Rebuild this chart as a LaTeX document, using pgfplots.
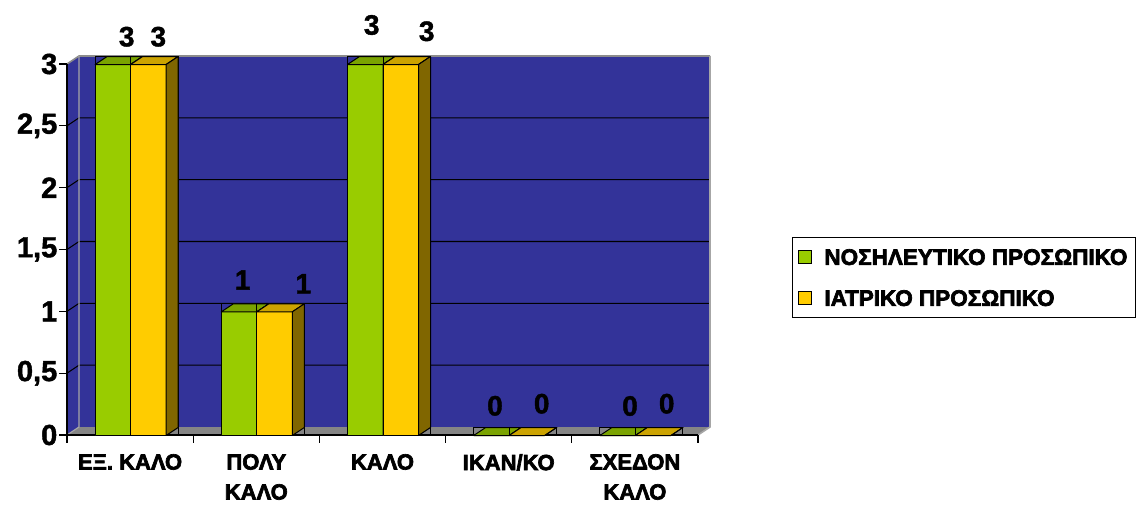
\documentclass[border=0pt]{standalone}
\usepackage{fontspec}
\setmainfont{Liberation Sans}[BoldFeatures={FakeBold=1.5}]
\newfontfamily\heavy{Liberation Sans}[UprightFeatures={FakeBold=3}, BoldFeatures={FakeBold=3}]
\usepackage{pgfplots}
\usepackage{pgfplotstable}
\pgfplotsset{compat=1.18}
\definecolor{navy}{HTML}{333399}
\definecolor{greenc}{HTML}{99CC00}
\definecolor{greentop}{HTML}{7AA300}
\definecolor{greenside}{HTML}{4D6600}
\definecolor{yellowc}{HTML}{FFCC00}
\definecolor{yellowtop}{HTML}{CCA300}
\definecolor{yellowside}{HTML}{806600}
\definecolor{floorc}{HTML}{858585}
\definecolor{edgegray}{HTML}{8C8C8C}
\definecolor{edgelight}{HTML}{A6A6A6}

\pgfdeclareplotmark{nothing}{}
\def\yunit{123.6667}
\newdimen\bhdim
\newdimen\bhsdim
% prism of one bar: front face, top face, side face; origin = top centre of front face
\newcommand\prismpic[3]{%
  \bhdim=\barval pt\relax
  \bhdim=\yunit\bhdim
  \bhsdim=8pt\relax
  \advance\bhsdim by -\bhdim
  \edef\bh{\the\bhdim}\edef\bhs{\the\bhsdim}%
  \begin{tikzpicture}[line width=1pt, line join=round]
    \useasboundingbox (-17.75pt,-\bh) rectangle (29.75pt,8pt);
    \filldraw[draw=black, fill=#1] (-17.75pt,-\bh) rectangle (17.75pt,0pt);
    \filldraw[draw=black, fill=#2] (-17.75pt,0pt) -- (17.75pt,0pt) -- (29.75pt,8pt) -- (-5.75pt,8pt) -- cycle;
    \filldraw[draw=black, fill=#3] (17.75pt,0pt) -- (29.75pt,8pt) -- (29.75pt,\bhs) -- (17.75pt,-\bh) -- cycle;
  \end{tikzpicture}}

\pgfplotstableread{
x v lx ly
0 3 -3.4 27.3
1 1 -13.6 31.3
2 3 -10.8 39
3 0 -13.7 29.2
4 0 -4.9 29
}\nurse
\pgfplotstableread{
x v lx ly
0 3 28.2 27.3
1 1 47 27.6
2 3 44.2 32.7
3 0 33 31.3
4 0 31.8 31.3
}\doctors

\begin{document}
\begin{tikzpicture}
\useasboundingbox (-67pt,-69pt) rectangle (1074pt,435pt);
\begin{axis}[at={(0pt,0pt)}, anchor=south west, scale only axis,
  width=631pt, height=371pt,
  xmin=-0.5, xmax=4.5, ymin=0, ymax=3,
  clip=false, axis on top,
  axis x line*=bottom, axis y line*=left,
  axis line style={black, line width=1.3pt, -},
  tick style={black, line width=1.3pt},
  tick align=outside, major tick length=7.5pt,
  ytick={0,0.5,1,1.5,2,2.5,3},
  xtick={-0.5,0.5,1.5,2.5,3.5,4.5}, xticklabels={},
  extra x ticks={0,1,2,3,4},
  extra x tick labels={ΕΞ. ΚΑΛΟ, {ΠΟΛΥ\\ΚΑΛΟ}, ΚΑΛΟ, ΙΚΑΝ/ΚΟ, {ΣΧΕΔΟΝ\\ΚΑΛΟ}},
  extra x tick style={major tick length=0pt,
    tick label style={font={\heavy\fontsize{22}{30}\selectfont\bfseries}, align=center, inner sep=0pt, anchor=north, yshift=-19pt}},
  /pgf/number format/use comma, /pgf/number format/assume math mode=true,
  yticklabel style={font={\fontsize{29}{30}\selectfont\bfseries}, inner sep=2pt},
  legend style={at={(axis description cs:1.1490,0.5337)}, anchor=north west, draw=black, line width=1pt, fill=white,
    inner xsep=5pt, inner ysep=5.4pt, row sep=12.8pt,
    nodes={font={\heavy\fontsize{22.5}{25}\selectfont\bfseries}, inner sep=3pt, text height=19pt, text depth=3.2pt}},
  legend cell align=left,
]
\fill[navy] ([shift={(12pt,8pt)}]axis cs:-0.5,0) rectangle ([shift={(12pt,8pt)}]axis cs:4.5,3);
\fill[navy] (axis cs:-0.5,0) -- (axis cs:-0.5,3) -- ([shift={(12pt,8pt)}]axis cs:-0.5,3) -- ([shift={(12pt,8pt)}]axis cs:-0.5,0) -- cycle;
\fill[floorc] (axis cs:-0.5,0) -- (axis cs:4.5,0) -- ([shift={(12pt,8pt)}]axis cs:4.5,0) -- ([shift={(12pt,8pt)}]axis cs:-0.5,0) -- cycle;
\pgfplotsinvokeforeach{0.5,1,1.5,2,2.5}{
  \draw[black, line width=1.1pt] (axis cs:-0.5,#1) -- ([shift={(12pt,8pt)}]axis cs:-0.5,#1) -- ([shift={(12pt,8pt)}]axis cs:4.5,#1);
}
\draw[edgegray, line width=1.6pt] (axis cs:-0.5,3) -- ([shift={(12pt,8pt)}]axis cs:-0.5,3) -- ([shift={(12pt,8pt)}]axis cs:4.5,3);
\draw[edgelight, line width=1.6pt] ([shift={(12pt,8pt)}]axis cs:4.5,3) -- ([shift={(12pt,8pt)}]axis cs:4.5,0) -- (axis cs:4.5,0);
\draw[edgelight, line width=1.2pt] ([shift={(12pt,8pt)}]axis cs:-0.5,3) -- ([shift={(12pt,8pt)}]axis cs:-0.5,0) -- (axis cs:-0.5,0);

% bars (prisms) drawn at each data point
\addplot[only marks, mark=nothing,
  visualization depends on={\thisrow{v} \as \barval},
  nodes near coords={\prismpic{greenc}{greentop}{greenside}},
  every node near coord/.append style={anchor=north west, inner sep=0pt, outer sep=0pt, xshift=-35.5pt, yshift=8pt},
  legend image code/.code={\draw[line width=0.8pt, fill=greenc] (5pt,-6.5pt) rectangle (18pt,6.5pt); \path (28pt,0pt);}]
  table[x=x, y=v]{\nurse};
\addlegendentry{ΝΟΣΗΛΕΥΤΙΚΟ ΠΡΟΣΩΠΙΚΟ}
\addplot[only marks, mark=nothing,
  visualization depends on={\thisrow{v} \as \barval},
  nodes near coords={\prismpic{yellowc}{yellowtop}{yellowside}},
  every node near coord/.append style={anchor=north west, inner sep=0pt, outer sep=0pt, xshift=0pt, yshift=8pt},
  legend image code/.code={\draw[line width=0.8pt, fill=yellowc] (5pt,-6.5pt) rectangle (18pt,6.5pt); \path (28pt,0pt);}]
  table[x=x, y=v]{\doctors};
\addlegendentry{ΙΑΤΡΙΚΟ ΠΡΟΣΩΠΙΚΟ}

% data labels
\addplot[forget plot, only marks, mark=nothing,
  visualization depends on={\thisrow{lx} \as \lx},
  visualization depends on={\thisrow{ly} \as \ly},
  nodes near coords,
  every node near coord/.append style={font={\fontsize{28}{30}\selectfont\bfseries}, anchor=center, xshift=\lx pt, yshift=\ly pt, inner sep=0pt}]
  table[x=x, y=v]{\nurse};
\addplot[forget plot, only marks, mark=nothing,
  visualization depends on={\thisrow{lx} \as \lx},
  visualization depends on={\thisrow{ly} \as \ly},
  nodes near coords,
  every node near coord/.append style={font={\fontsize{28}{30}\selectfont\bfseries}, anchor=center, xshift=\lx pt, yshift=\ly pt, inner sep=0pt}]
  table[x=x, y=v]{\doctors};
\end{axis}
\end{tikzpicture}
\end{document}
